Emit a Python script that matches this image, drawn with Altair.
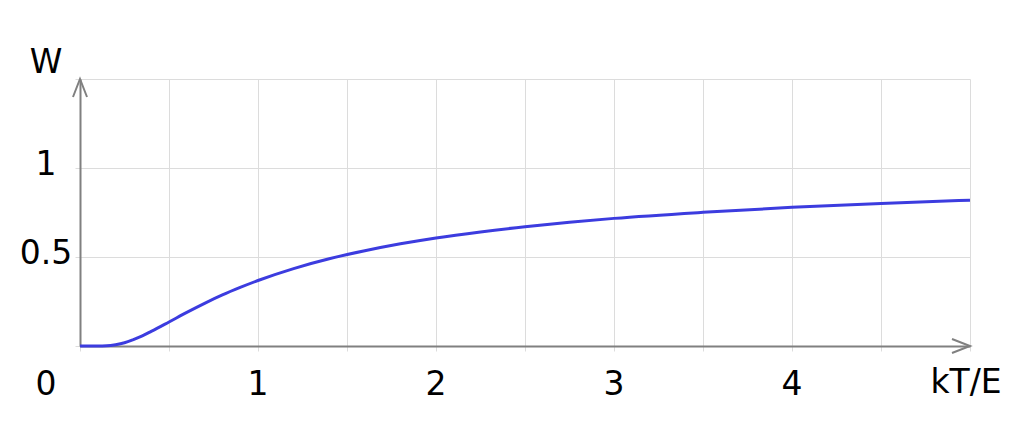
import altair as alt
import pandas as pd

# curve
kt_e = [0, 0.1, 0.15, 0.2, 0.25, 0.3, 0.35, 0.4, 0.5, 0.6, 0.7, 0.8, 0.9, 1.0,
        1.2, 1.4, 1.6, 1.8, 2.0, 2.25, 2.5, 2.75, 3.0, 3.5, 4.0, 4.5, 5.0]
w_vals = [0, 0.0, 0.001, 0.007, 0.018, 0.036, 0.057, 0.082, 0.135, 0.189, 0.240, 0.287, 0.329, 0.368,
          0.435, 0.490, 0.535, 0.574, 0.607, 0.641, 0.670, 0.695, 0.717, 0.751, 0.779, 0.801, 0.819]

x_tick_vals = [1, 2, 3, 4]
x_tick_text = ["1", "2", "3", "4"]
y_tick_vals = [0.5, 1]
y_tick_text = ["0.5", "1"]
grid_x = [0, 0.5, 1, 1.5, 2, 2.5, 3, 3.5, 4, 4.5, 5]
grid_y = [0, 0.5, 1, 1.5]

FONT = "DejaVu Sans"
FS = 33
AXIS_GRAY = "#808080"
GRID_GRAY = "#dcdcdc"

xs = alt.Scale(domain=[0, 5], nice=False, zero=False)
ys = alt.Scale(domain=[0, 1.5], nice=False, zero=False)

curve_df = pd.DataFrame({"x": kt_e, "y": w_vals})

base_axis = dict(labels=False, title=None, grid=True, gridColor=GRID_GRAY, gridWidth=1,
                 ticks=True, tickColor=GRID_GRAY, tickSize=5,
                 domain=True, domainColor=AXIS_GRAY, domainWidth=2)

curve = alt.Chart(curve_df).mark_line(color="#3c3cdf", strokeWidth=3, interpolate="monotone").encode(
    x=alt.X("x:Q", scale=xs, axis=alt.Axis(values=grid_x, **base_axis)),
    y=alt.Y("y:Q", scale=ys, axis=alt.Axis(values=grid_y, **base_axis)),
)

up_arrow = alt.Chart(pd.DataFrame({"x": [0], "y": [1.5]})).mark_point(
    shape="M-0.39,1L0,0L0.39,1", size=1296, filled=False, stroke=AXIS_GRAY, strokeWidth=2, opacity=1
).encode(x=alt.X("x:Q", scale=xs), y=alt.Y("y:Q", scale=ys))

right_arrow = alt.Chart(pd.DataFrame({"x": [5], "y": [0]})).mark_point(
    shape="M-1,-0.39L0,0L-1,0.39", size=1296, filled=False, stroke=AXIS_GRAY, strokeWidth=2, opacity=1
).encode(x=alt.X("x:Q", scale=xs), y=alt.Y("y:Q", scale=ys))

xlab = alt.Chart(pd.DataFrame({"x": x_tick_vals, "t": x_tick_text})).mark_text(
    font=FONT, fontSize=FS, color="black", baseline="alphabetic", align="center"
).encode(x=alt.X("x:Q", scale=xs), y=alt.value(316), text="t:N")

ylab = alt.Chart(pd.DataFrame({"y": y_tick_vals, "t": y_tick_text})).mark_text(
    font=FONT, fontSize=FS, color="black", baseline="alphabetic", align="center", dy=7
).encode(x=alt.value(-34), y=alt.Y("y:Q", scale=ys), text="t:N")

extra = alt.Chart(pd.DataFrame({"px": [-34, -34, 886], "py": [316, -6, 314], "t": ["0", "W", "kT/E"]})).mark_text(
    font=FONT, fontSize=FS, color="black", baseline="alphabetic", align="center"
).encode(x=alt.X("px:Q", scale=None), y=alt.Y("py:Q", scale=None), text="t:N")

chart = alt.layer(curve, up_arrow, right_arrow, xlab, ylab, extra).properties(
    width=890, height=267,
    autosize=alt.AutoSizeParams(type="none"),
    padding={"left": 72, "top": 71, "right": 40, "bottom": 72},
).configure_view(strokeWidth=0)

chart.save("out.html", embed_options={"renderer": "svg", "actions": False})
